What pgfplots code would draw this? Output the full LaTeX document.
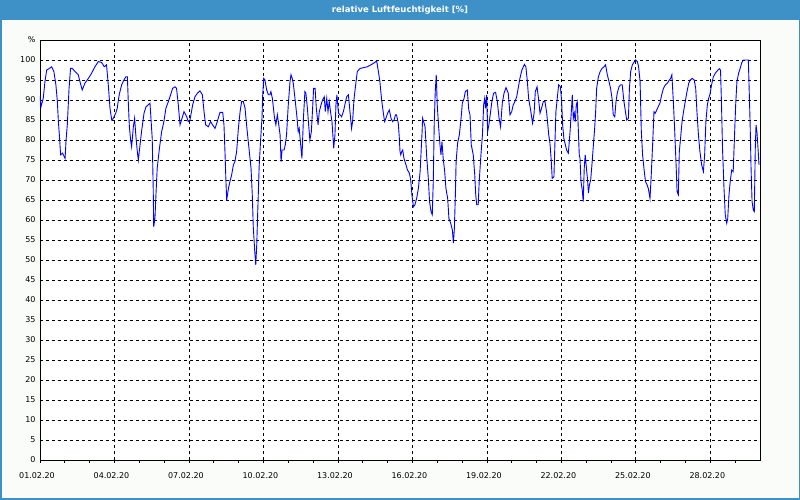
\documentclass[border=0pt]{standalone}
\usepackage{fontspec}
\setmainfont{DejaVu Sans}
\usepackage{pgfplots}
\pgfplotsset{compat=1.18}

\definecolor{titleblue}{RGB}{61,145,199}
\definecolor{bgcol}{RGB}{250,252,250}
\definecolor{lineblue}{RGB}{0,0,255}

\begin{document}
\begin{tikzpicture}[x=1pt,y=1pt]
% window background, title bar and frame
\fill[bgcol] (0,0) rectangle (800,500);
\fill[titleblue] (0,480) rectangle (800,500);
\draw[titleblue, line width=1.5pt] (0.75,0.75) rectangle (799.25,499.25);
\node[text=white, font=\bfseries\fontsize{8.5}{10}\selectfont] at (400,490) {relative Luftfeuchtigkeit [\%]};

\begin{axis}[
    at={(40pt,40pt)}, anchor=south west,
    scale only axis, width=720pt, height=420pt,
    xmin=0, xmax=29, ymin=0, ymax=105,
    axis background/.style={fill=white},
    axis line style={black, line width=0.8pt},
    xtick={0,3,...,27},
    xticklabels={01.02.20,04.02.20,07.02.20,10.02.20,13.02.20,16.02.20,19.02.20,22.02.20,25.02.20,28.02.20},
    minor xtick={1,2,...,28},
    ytick={0,5,...,105},
    yticklabels={0,5,10,15,20,25,30,35,40,45,50,55,60,65,70,75,80,85,90,95,100,\raisebox{-4pt}{\%}},
    xtick pos=left,
    tick align=outside,
    major tick length=3pt, minor tick length=3pt,
    ytick style={draw=none},
    xtick style={black, line width=0.8pt},
    grid=major,
    major grid style={black, line width=0.8pt, dash pattern=on 3pt off 3pt},
    ticklabel style={font=\fontsize{8}{9}\selectfont},
    xticklabel style={xshift=-3pt, yshift=-6pt},
    yticklabel style={xshift=2pt},
]
\addplot[lineblue, line width=0.9pt] coordinates {
(0.00,91.0) (0.04,88.3) (0.13,90.4) (0.20,94.6) (0.27,97.5) (0.38,97.9) (0.47,98.3) (0.56,97.1)
(0.64,93.8) (0.70,89.6) (0.74,84.6) (0.78,81.3) (0.83,76.3) (0.91,76.7) (1.01,75.4) (1.05,80.0)
(1.10,83.8) (1.17,92.9) (1.23,97.9) (1.30,97.9) (1.41,97.1) (1.54,96.3) (1.61,94.6) (1.70,92.5)
(1.81,94.2) (1.95,95.4) (2.08,96.7) (2.21,98.3) (2.35,99.6) (2.48,99.4) (2.59,98.3) (2.68,98.8)
(2.75,93.8) (2.82,87.9) (2.89,85.0) (2.95,85.4) (3.05,86.7) (3.11,87.9) (3.19,91.3) (3.29,93.8)
(3.38,95.0) (3.46,95.8) (3.52,95.8) (3.56,88.8) (3.60,83.3) (3.65,80.0) (3.69,78.3) (3.76,83.3)
(3.81,85.4) (3.87,80.4) (3.92,77.1) (3.96,75.0) (4.03,78.8) (4.09,82.1) (4.19,86.7) (4.27,88.3)
(4.43,89.2) (4.52,80.4) (4.56,67.9) (4.58,58.3) (4.63,60.4) (4.67,66.3) (4.72,72.9) (4.81,77.9)
(4.90,82.1) (4.99,84.6) (5.07,87.9) (5.17,89.6) (5.26,91.3) (5.34,92.9) (5.44,93.3) (5.50,92.9)
(5.57,88.8) (5.64,83.8) (5.70,85.0) (5.80,87.1) (5.91,85.8) (5.97,84.6) (6.04,85.0) (6.15,88.8)
(6.24,90.8) (6.34,91.7) (6.44,92.3) (6.54,91.3) (6.60,87.5) (6.67,83.8) (6.78,83.3) (6.87,84.6)
(6.95,83.8) (7.05,82.9) (7.14,84.6) (7.22,86.3)
(7.25,86.9) (7.36,86.9) (7.41,83.8) (7.45,77.1) (7.49,69.6) (7.52,65.0) (7.59,67.9) (7.65,69.6)
(7.72,71.3) (7.79,73.8) (7.85,74.6) (7.92,77.1) (7.99,82.9) (8.06,87.1) (8.12,89.6) (8.19,89.6)
(8.26,87.9) (8.32,83.8) (8.43,77.1) (8.50,72.9) (8.55,66.3) (8.59,58.3) (8.65,52.1) (8.69,48.8)
(8.73,53.8) (8.77,62.1) (8.83,73.8) (8.89,80.4) (8.94,85.4) (8.97,91.3) (9.01,95.4) (9.06,95.0)
(9.13,92.5) (9.20,91.3) (9.26,91.3) (9.30,92.1) (9.36,90.4) (9.44,85.8) (9.50,83.8) (9.56,86.3)
(9.60,84.6) (9.67,81.3) (9.71,74.6) (9.75,77.5) (9.83,77.5) (9.88,78.8) (9.93,81.3) (10.00,88.8)
(10.07,94.6) (10.11,96.3) (10.16,95.4) (10.20,94.2) (10.27,90.4) (10.34,86.3) (10.40,82.1) (10.44,82.9)
(10.50,78.8) (10.55,75.4) (10.61,85.4) (10.67,92.1) (10.71,91.7) (10.77,87.9) (10.82,83.8) (10.87,80.0)
(10.93,82.1) (10.98,87.9) (11.02,92.9) (11.08,92.9) (11.13,87.9) (11.20,83.8) (11.25,87.1) (11.32,88.8)
(11.38,90.0) (11.45,90.8) (11.49,87.1) (11.55,90.4) (11.60,87.1) (11.65,89.6) (11.71,86.7) (11.76,84.6)
(11.80,80.8) (11.83,77.9) (11.88,81.3) (11.92,88.8) (11.96,91.3) (12.02,86.7) (12.08,86.3) (12.15,85.8)
(12.22,87.1) (12.28,88.8) (12.35,90.8) (12.42,91.3) (12.46,88.8) (12.51,85.4) (12.55,82.9) (12.59,84.6)
(12.65,90.4) (12.73,94.6) (12.78,97.1) (12.89,97.9) (13.05,98.1) (13.18,98.3) (13.36,98.9) (13.49,99.4)
(13.56,99.8) (13.63,97.1) (13.69,94.6) (13.76,90.0) (13.83,86.7) (13.88,84.6) (13.93,85.4) (14.00,86.7)
(14.07,87.5) (14.14,85.4) (14.20,84.6) (14.26,85.0) (14.32,86.3) (14.36,86.3) (14.43,84.2) (14.47,80.8)
(14.50,77.1)
(14.53,76.3) (14.57,77.1) (14.61,77.5) (14.66,75.4) (14.74,73.8) (14.80,72.5) (14.88,71.7) (14.93,70.0)
(14.98,66.3) (15.04,63.3) (15.10,63.8) (15.17,65.4) (15.24,67.9) (15.31,72.1) (15.35,77.1) (15.39,82.1)
(15.41,85.4) (15.47,84.2) (15.51,83.3) (15.57,76.3) (15.64,70.4) (15.69,64.6) (15.75,62.1) (15.80,61.3)
(15.84,69.6) (15.88,84.6) (15.92,92.1) (15.96,96.3) (16.00,88.8) (16.06,82.9) (16.11,78.8) (16.15,76.3)
(16.19,79.6) (16.24,75.4) (16.30,72.1) (16.35,67.9) (16.42,65.4) (16.47,60.4) (16.54,59.2) (16.61,57.5)
(16.65,54.2) (16.69,57.9) (16.73,66.3) (16.76,74.6) (16.82,79.2) (16.89,81.3) (16.96,85.4) (17.01,89.2)
(17.08,90.4) (17.13,92.1) (17.21,92.5) (17.27,87.5) (17.32,86.3) (17.37,78.8) (17.45,76.3) (17.51,71.3)
(17.55,66.3) (17.59,63.8) (17.65,63.8) (17.69,69.6) (17.76,76.3) (17.82,81.3) (17.87,88.8) (17.91,90.4)
(17.95,87.9) (17.99,91.3) (18.03,82.1) (18.08,83.8) (18.15,87.1) (18.20,89.6) (18.27,91.7) (18.35,91.9)
(18.42,89.6) (18.49,85.4) (18.55,83.3) (18.62,89.2) (18.69,91.7) (18.77,93.1) (18.86,91.7) (18.93,86.3)
(19.00,87.1) (19.06,88.8) (19.13,89.6) (19.20,90.8) (19.27,93.3) (19.33,95.4) (19.41,97.5) (19.51,98.9)
(19.57,98.3) (19.63,94.6) (19.68,90.4) (19.76,87.5) (19.84,84.2) (19.90,86.7) (19.95,92.1) (20.02,93.3)
(20.07,90.8) (20.14,86.7) (20.20,87.9) (20.27,89.6) (20.34,89.6) (20.41,86.7) (20.49,81.3) (20.54,79.2)
(20.59,75.0) (20.63,70.4) (20.70,70.8) (20.74,79.2) (20.78,87.1) (20.84,90.8) (20.89,93.8) (20.96,93.3)
(21.01,89.6) (21.05,83.8) (21.10,80.4) (21.16,78.8) (21.21,77.5) (21.28,76.7) (21.35,82.1) (21.40,87.1)
(21.44,91.3) (21.48,85.4) (21.52,86.7) (21.56,84.6) (21.60,88.8) (21.64,89.6) (21.68,82.9) (21.72,76.3)
(21.75,75.4) (21.79,69.6) (21.84,67.5) (21.88,64.6) (21.92,72.9) (21.96,76.3) (22.01,72.9) (22.05,70.4)
(22.09,66.7) (22.13,68.8) (22.18,70.0) (22.23,73.8) (22.29,78.8) (22.34,82.9) (22.38,87.1) (22.42,92.9)
(22.49,95.8) (22.56,97.1) (22.64,97.9) (22.72,98.3) (22.78,98.8) (22.85,96.3) (22.92,94.6) (22.98,92.9)
(23.04,90.4) (23.09,86.3) (23.15,85.8) (23.20,89.6) (23.25,91.7) (23.32,93.3) (23.39,93.8) (23.45,93.8)
(23.52,89.6) (23.59,86.7) (23.63,85.0) (23.70,85.4) (23.74,92.9) (23.79,97.1) (23.86,98.8) (23.94,99.6)
(23.99,100.0) (24.06,99.6) (24.11,98.3) (24.17,94.6) (24.22,82.1) (24.27,76.3) (24.34,72.1) (24.39,69.6)
(24.45,68.8) (24.50,67.9) (24.57,65.4) (24.62,71.3) (24.68,79.6) (24.73,87.1) (24.78,86.7) (24.84,87.5)
(24.90,88.3) (24.97,89.2) (25.04,91.3) (25.11,92.9) (25.19,93.8) (25.27,94.2) (25.35,95.0) (25.40,95.4)
(25.45,96.3) (25.51,89.6) (25.56,82.9) (25.62,73.8) (25.66,67.1) (25.71,66.3) (25.75,77.1) (25.80,80.4)
(25.86,84.6) (25.92,87.1) (25.99,89.6) (26.06,92.1) (26.13,94.2) (26.19,95.0) (26.27,95.4) (26.35,95.0)
(26.41,92.9) (26.46,87.1) (26.52,81.3) (26.58,77.1) (26.65,73.8) (26.72,72.1) (26.77,76.3) (26.82,84.6)
(26.88,88.8) (26.93,90.4) (26.98,91.3) (27.05,93.8) (27.12,95.8) (27.20,96.7) (27.28,97.3) (27.36,97.8)
(27.41,97.5) (27.45,88.8) (27.49,77.9) (27.55,67.9) (27.60,61.3) (27.66,59.2) (27.70,60.4) (27.75,66.3)
(27.80,69.6) (27.86,72.5) (27.92,72.1) (27.96,78.8) (28.02,88.8) (28.07,94.6) (28.14,96.7) (28.21,98.1)
(28.27,99.4) (28.33,100.0) (28.46,100.0) (28.53,100.0) (28.60,84.6) (28.64,72.9) (28.68,64.6) (28.73,62.5)
(28.77,62.1) (28.81,77.9) (28.84,83.8) (28.88,81.7) (28.92,77.9) (28.96,73.8)
};
\end{axis}
\pgfresetboundingbox
\useasboundingbox (0,0) rectangle (800,500);
\end{tikzpicture}
\end{document}
